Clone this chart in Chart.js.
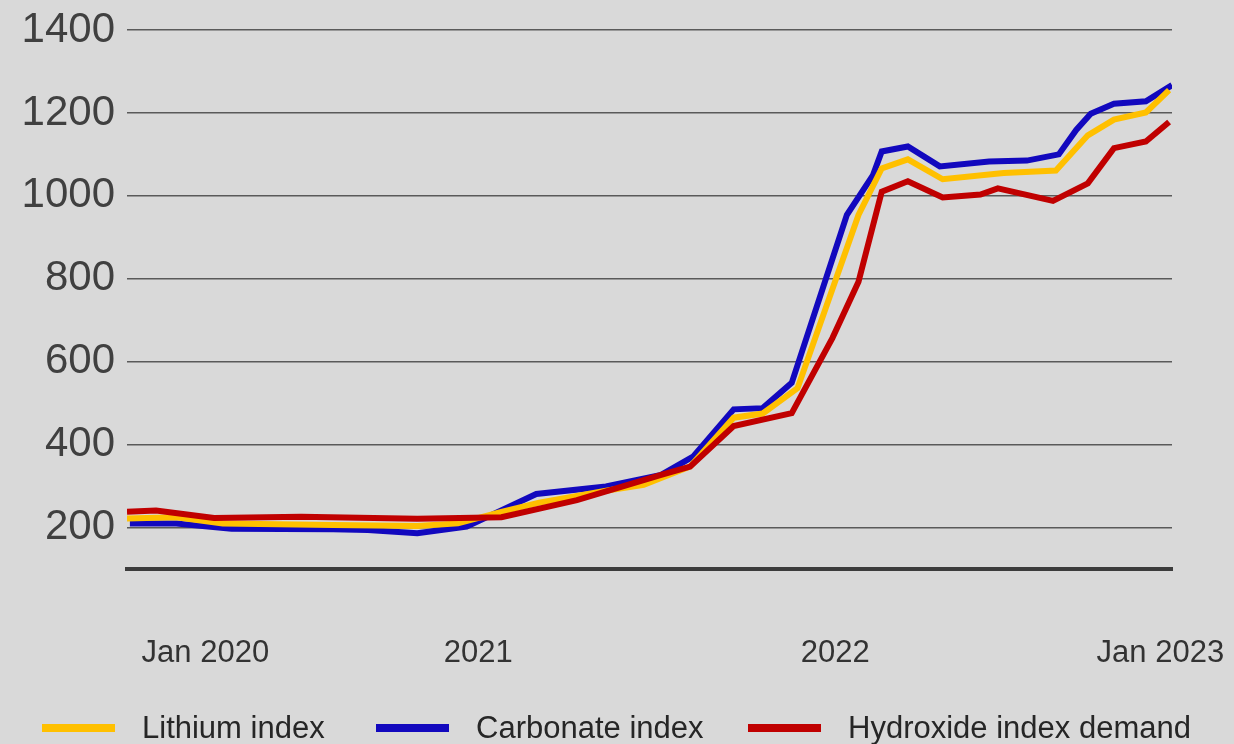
<!DOCTYPE html>
<html><head><meta charset="utf-8">
<script src="https://cdn.jsdelivr.net/npm/chart.js@4.4.1/dist/chart.umd.min.js"></script>
<style>
html,body{margin:0;padding:0;background:#d9d9d9;}
#wrap{position:relative;width:1234px;height:744px;overflow:hidden;background:#d9d9d9;}
#c{position:absolute;left:0;top:0;}
.leg{position:absolute;top:712px;display:flex;align-items:center;font-family:"Liberation Sans",Arial,sans-serif;font-size:31px;line-height:31px;color:#262626;white-space:nowrap;}
.leg i{display:inline-block;width:73px;height:8px;margin-right:27px;}
</style></head>
<body><div id="wrap"><canvas id="c" width="1234" height="744"></canvas><div id="legend"></div></div>
<script>
// x values are months since Jan 2020
const seriesNames = ['Lithium index', 'Carbonate index', 'Hydroxide index demand'];
const seriesColors = ['#FFC000', '#1208BE', '#C00000'];

const lithiumX = [0, 1.7, 3.3, 7.1, 10, 11.4, 12.9, 14.2, 16.6, 17.8, 19.4, 20.9, 21.9, 23.1, 25.2, 26.0, 26.9, 28.1, 30.2, 32.0, 33.1, 34.0, 35.1, 35.9];
const lithiumY = [222, 225, 210, 206, 204, 210, 238, 260, 290, 303, 347, 465, 475, 536, 954, 1066, 1088, 1040, 1055, 1061, 1146, 1184, 1201, 1255];

const carbonateX = [0.1, 1.7, 3.6, 7.1, 8.3, 10, 11.7, 14.1, 16.5, 18.4, 19.5, 20.9, 21.9, 22.9, 24.8, 25.7, 26.0, 26.9, 28.0, 29.7, 31.0, 32.1, 32.7, 33.2, 34.0, 35.1, 36.0];
const carbonateY = [210, 210, 197, 196, 194, 186, 202, 281, 299, 327, 371, 485, 488, 549, 954, 1050, 1107, 1119, 1071, 1083, 1085, 1100, 1159, 1198, 1222, 1228, 1267];

const hydroxideX = [0, 1.0, 3.0, 6.0, 10, 12.9, 15.5, 18.4, 19.4, 20.9, 22.9, 24.3, 25.2, 26.0, 26.9, 28.1, 29.4, 30.0, 31.9, 33.1, 34.0, 35.1, 35.9];
const hydroxideY = [238, 241, 223, 226, 221, 225, 266, 327, 347, 445, 476, 657, 793, 1010, 1035, 996, 1003, 1018, 988, 1030, 1115, 1131, 1178];

const xTickLabels = ['Jan 2020', '2021', '2022', 'Jan 2023'];
const xTickValues = [2.7, 12.1, 24.4, 35.6];
const yTickValues = [200, 400, 600, 800, 1000, 1200, 1400];

const pts = (xs, ys) => xs.map((x, i) => ({x: x, y: ys[i]}));
const seriesData = [pts(lithiumX, lithiumY), pts(carbonateX, carbonateY), pts(hydroxideX, hydroxideY)];
const drawOrder = [2, 3, 1];

const FONT = '"Liberation Sans", Arial, sans-serif';

new Chart(document.getElementById('c'), {
  type: 'line',
  data: {
    datasets: seriesNames.map((n, i) => ({
      label: n,
      data: seriesData[i],
      borderColor: seriesColors[i],
      backgroundColor: seriesColors[i],
      borderWidth: 6,
      pointRadius: 0,
      tension: 0,
      borderCapStyle: 'butt',
      borderJoinStyle: 'miter',
      order: drawOrder[i]
    }))
  },
  options: {
    responsive: false,
    animation: false,
    devicePixelRatio: 1,
    layout: {padding: {left: 0, right: 0, top: 30, bottom: 0}},
    plugins: {legend: {display: false}, tooltip: {enabled: false}},
    scales: {
      x: {
        type: 'linear',
        min: 0, max: 36,
        afterBuildTicks: s => { s.ticks = xTickValues.map(v => ({value: v})); },
        afterFit: s => { s.paddingLeft = 0; s.paddingRight = 62; s.height = 175; },
        grid: {display: false, drawTicks: true, tickLength: 60},
        border: {display: true, color: '#3c3c3c', width: 4},
        ticks: {
          autoSkip: false, maxRotation: 0, padding: 6,
          color: '#333333',
          font: {family: FONT, size: 31},
          callback: (v, i) => xTickLabels[i]
        }
      },
      y: {
        min: 100, max: 1400,
        afterBuildTicks: s => { s.ticks = yTickValues.map(v => ({value: v})); },
        afterFit: s => { s.width = 127; s.paddingTop = 0; s.paddingBottom = 0; },
        grid: {color: '#5a5a5a', lineWidth: 1.5, drawTicks: false},
        border: {display: false},
        ticks: {
          padding: 12,
          color: '#404040',
          font: {family: FONT, size: 42},
          callback: v => String(v)
        }
      }
    }
  }
});

const legendLeft = [42, 376, 748];
const lg = document.getElementById('legend');
seriesNames.forEach((n, i) => {
  const d = document.createElement('div');
  d.className = 'leg';
  d.style.left = legendLeft[i] + 'px';
  const b = document.createElement('i');
  b.style.background = seriesColors[i];
  d.appendChild(b);
  d.appendChild(document.createTextNode(n));
  lg.appendChild(d);
});
</script>
</body></html>
